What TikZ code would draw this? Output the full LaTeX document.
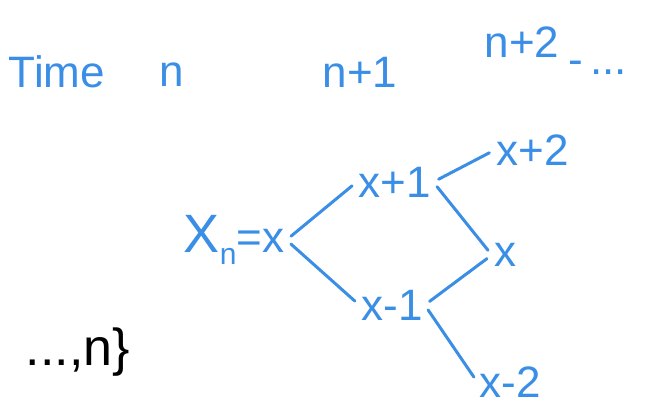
\documentclass[tikz,border=0pt]{standalone}
\usepackage{fontspec}
\setmainfont{Liberation Sans}
\definecolor{ink}{HTML}{3A8EE6}
\tikzset{lbl/.style={text=ink,font=\fontsize{44}{48}\selectfont,inner sep=2pt},
  edge/.style={draw=ink,line width=3pt,line cap=round,shorten <=6pt,shorten >=6pt}}
\begin{document}
\begin{tikzpicture}[x=1pt,y=-1pt]
\useasboundingbox (0,0) rectangle (661,409);
% time axis
\node[lbl] (time) at (57,72) {Time};
\node[lbl] (tn) at (172,75) {n};
\node[lbl] (tn1) at (360,72) {n+1};
\node[lbl] (tn2) at (522,42) {n+2};
\node[lbl,anchor=west] (tdots) at (566,68) {-\,...};
% states
\node[lbl] (xn) at (234,240) {{\fontsize{54}{58}\selectfont X}\raisebox{-0.5ex}{\fontsize{30}{32}\selectfont n}=x};
\node[lbl] (up) at (395,182) {x+1};
\node[lbl] (up2) at (533,150) {x+2};
\node[lbl] (mid) at (505,255) {x};
\node[lbl] (dn) at (392,305) {x-1};
\node[lbl] (dn2) at (510,382) {x-2};
\node[lbl,text=black,font=\fontsize{52}{56}\selectfont] (rest) at (78,352) {...,n\}};
\foreach \a/\b in {xn/up,xn/dn,up/up2,up/mid,dn/mid,dn/dn2}{\draw[edge] (\a.east) -- (\b.west);}
\end{tikzpicture}
\end{document}
